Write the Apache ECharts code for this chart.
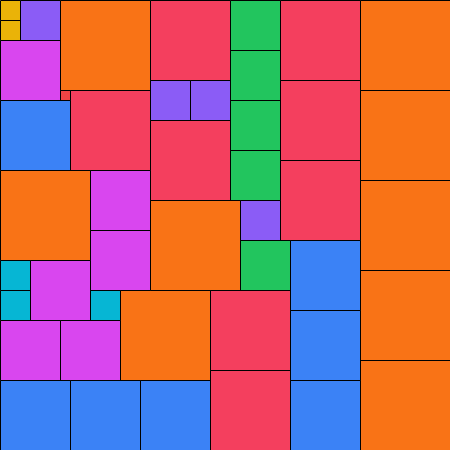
<!DOCTYPE html>
<html>
<head>
<meta charset="utf-8">
<script src="https://cdn.jsdelivr.net/npm/echarts@6/dist/echarts.min.js"></script>
<style>html,body{margin:0;padding:0;background:#fff;}#c{width:450px;height:450px;}</style>
</head>
<body>
<div id="c"></div>
<script>
// Partridge tiling: square positions (grid units) and side lengths
var squareX    = [0,0,2,0,6,6,7,0,15,15,19,15,23,23,23,23,28,28,28,36,36,36,36,36,0,9,9,0,0,3,9,12,0,6,0,7,14,15,24,24,21,21,29,29,29];
var squareY    = [0,2,0,4,0,9,9,10,0,8,8,12,0,5,10,15,0,8,16,0,9,18,27,36,17,17,23,26,29,26,29,29,32,32,38,38,38,20,20,24,29,37,24,31,38];
var squareSize = [2,2,4,6,9,1,8,7,8,4,4,8,5,5,5,5,8,8,8,9,9,9,9,9,9,6,6,3,3,6,3,9,6,6,7,7,7,9,4,5,8,8,7,7,7];
var gridSide = 45;

var sizeColors = {1:'#ef4444',2:'#eab308',3:'#06b6d4',4:'#8b5cf6',5:'#22c55e',6:'#d946ef',7:'#3b82f6',8:'#f43f5e',9:'#f97316'};

var data = squareX.map(function(x, i){ return [x, squareY[i], squareSize[i]]; });

var chart = echarts.init(document.getElementById('c'));
chart.setOption({
  animation: false,
  grid: {left: 0, right: 0, top: 0, bottom: 0},
  xAxis: {type: 'value', min: 0, max: gridSide, show: false},
  yAxis: {type: 'value', min: 0, max: gridSide, inverse: true, show: false},
  series: [{
    type: 'custom',
    data: data,
    encode: {x: 0, y: 1},
    renderItem: function(params, api){
      var x = api.value(0), y = api.value(1), s = api.value(2);
      var p = api.coord([x, y]);
      var sz = api.size([s, s]);
      return {
        type: 'rect',
        shape: {x: p[0] + 0.5, y: p[1] + 0.5, width: sz[0], height: sz[1]},
        style: {fill: sizeColors[s], stroke: '#000', lineWidth: 1}
      };
    }
  }]
});
</script>
</body>
</html>
